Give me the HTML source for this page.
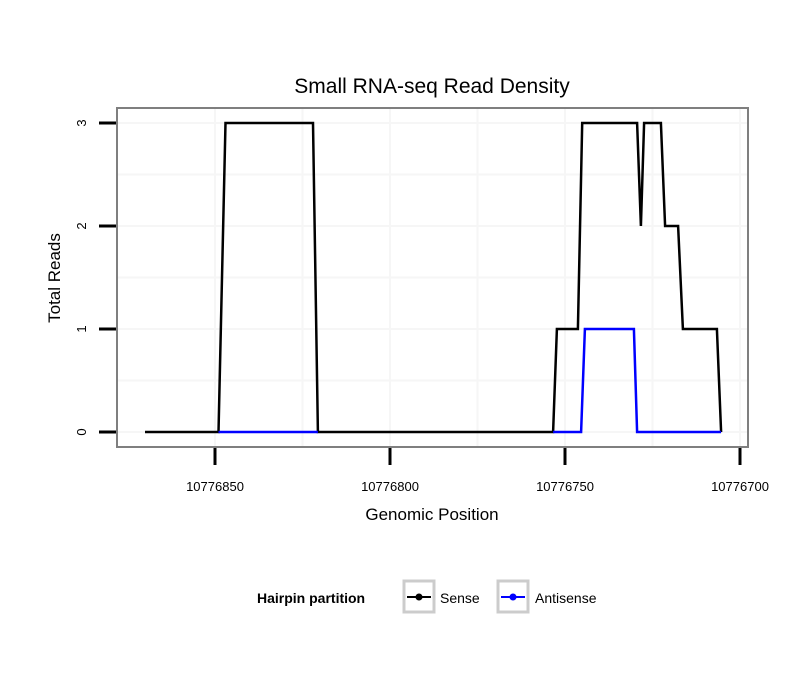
<!DOCTYPE html>
<html><head><meta charset="utf-8"><style>
body{margin:0;background:#fff;}
svg text{font-family:"Liberation Sans",sans-serif;}
</style></head><body>
<svg id="chart" width="810" height="690" xmlns="http://www.w3.org/2000/svg">
<rect width="810" height="690" fill="#fff"/>
<text x="432" y="93" font-size="21" text-anchor="middle">Small RNA-seq Read Density</text>
<g id="grid"></g>
<g id="lines"></g>
<rect x="117" y="108" width="631" height="339" fill="none" stroke="#7f7f7f" stroke-width="2"/>
<g id="axes"></g>
<text x="432" y="520" font-size="17" text-anchor="middle">Genomic Position</text>
<text transform="translate(60,278) rotate(-90)" font-size="17" text-anchor="middle">Total Reads</text>
<g>
<text x="257" y="603" font-size="14" font-weight="bold">Hairpin partition</text>
<g>
<rect x="404" y="581" width="30" height="31" fill="#fff" stroke="#ccc" stroke-width="3"/>
<line x1="407" y1="597" x2="431" y2="597" stroke="#000" stroke-width="2"/>
<circle cx="419" cy="597" r="3.5" fill="#000"/>
<text x="440" y="603" font-size="14">Sense</text></g>
<g>
<rect x="498" y="581" width="30" height="31" fill="#fff" stroke="#ccc" stroke-width="3"/>
<line x1="501" y1="597" x2="525" y2="597" stroke="#00f" stroke-width="2"/>
<circle cx="513" cy="597" r="3.5" fill="#00f"/>
<text x="535" y="603" font-size="14">Antisense</text></g>
</g>
</svg>
<script>
const xTicks=[10776850,10776800,10776750,10776700];
const yTicks=[0,1,2,3];
const senseX=[10776870,10776849,10776847,10776822,10776820.6,10776753.4,10776752.3,10776746.3,10776745.1,10776729.4,10776728.3,10776727.4,10776722.6,10776721.4,10776717.7,10776716.3,10776706.6,10776705.4];
const senseY=[0,0,3,3,0,0,1,1,3,3,2,3,3,2,2,1,1,0];
const antiX1=[10776849,10776820.6];
const antiY1=[0,0];
const antiX2=[10776753.4,10776745.4,10776744.3,10776730.3,10776729.4,10776705.4];
const antiY2=[0,0,1,1,0,0];
const NS="http://www.w3.org/2000/svg";
const xs=v=>215+(10776850-v)*3.5;
const ys=v=>432-v*103;
function mk(t,a,p){const e=document.createElementNS(NS,t);for(const k in a)e.setAttribute(k,a[k]);p.appendChild(e);return e;}
const grid=document.getElementById('grid'),axes=document.getElementById('axes'),lines=document.getElementById('lines');
const gx=[...xTicks];for(let i=0;i<xTicks.length-1;i++)gx.push((xTicks[i]+xTicks[i+1])/2);
gx.forEach(v=>{const x=xs(v);if(x>117&&x<748){const l=mk('line',{x1:x,x2:x,y1:108,y2:447,stroke:'#f6f6f6','stroke-width':2},grid);

}});
const gy=[...yTicks,0.5,1.5,2.5];
gy.forEach(v=>{const l=mk('line',{x1:117,x2:748,y1:ys(v),y2:ys(v),stroke:'#f6f6f6','stroke-width':2},grid);

});
xTicks.forEach(v=>{const x=xs(v);const t=mk('line',{x1:x,x2:x,y1:448,y2:465,stroke:'#000','stroke-width':3},axes);


const tx=mk('text',{x:x,y:491,'font-size':13,'text-anchor':'middle'},axes);tx.textContent=v;

});
yTicks.forEach(v=>{const y=ys(v);const t=mk('line',{x1:99,x2:116,y1:y,y2:y,stroke:'#000','stroke-width':3},axes);


const tx=mk('text',{transform:`translate(86,${y}) rotate(-90)`,'font-size':13,'text-anchor':'middle'},axes);tx.textContent=v;

});
function path(X,Y,c,name){const d=X.map((v,i)=>(i?'L':'M')+xs(v).toFixed(1)+','+ys(Y[i]).toFixed(1)).join('');
const p=mk('path',{d:d,fill:'none',stroke:c,'stroke-width':2.5},lines);

}
path(senseX,senseY,'#000','sense-line');
path(antiX1,antiY1,'#00f','antisense-line-1');
path(antiX2,antiY2,'#00f','antisense-line-2');
</script>
</body></html>
